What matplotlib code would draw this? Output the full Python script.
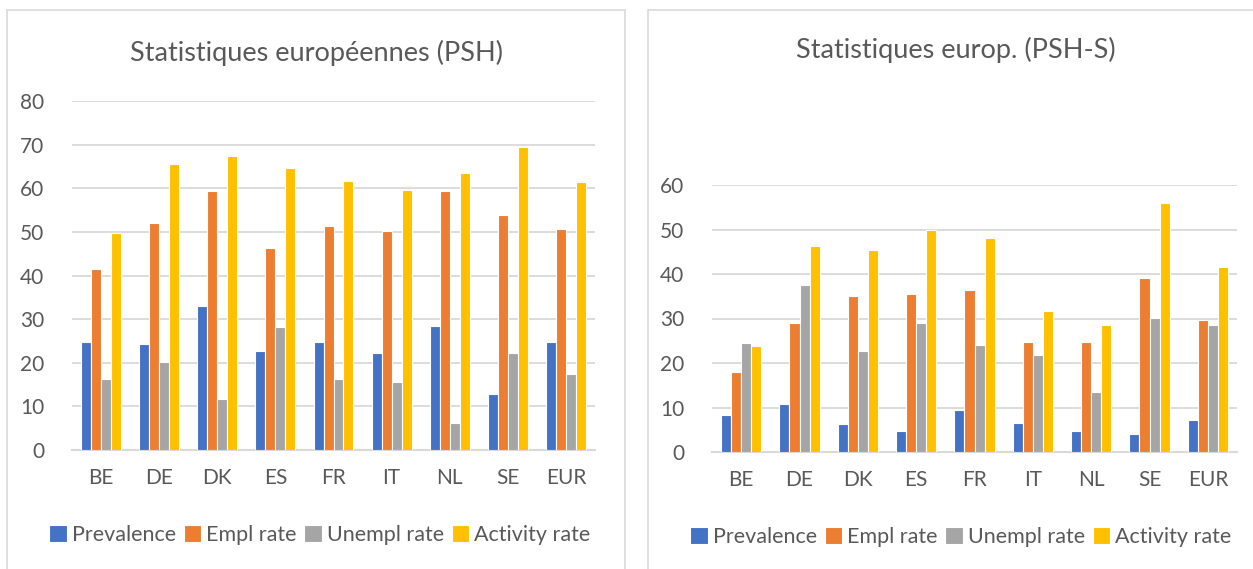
import matplotlib.pyplot as plt
import matplotlib.patches as mpatches
import numpy as np

plt.rcParams["font.family"] = ["Lato", "DejaVu Sans"]

countries = ["BE", "DE", "DK", "ES", "FR", "IT", "NL", "SE", "EUR"]
series_names = ["Prevalence", "Empl rate", "Unempl rate", "Activity rate"]
colors = ["#4472C4", "#ED7D31", "#A5A5A5", "#FFC000"]

# Statistiques européennes (PSH)
psh_prevalence = [24.8, 24.2, 32.9, 22.6, 24.7, 22.2, 28.4, 12.8, 24.7]
psh_empl = [41.4, 52.1, 59.4, 46.2, 51.4, 50.2, 59.4, 53.8, 50.6]
psh_unempl = [16.3, 20.2, 11.6, 28.2, 16.3, 15.5, 6.3, 22.2, 17.5]
psh_activity = [49.7, 65.5, 67.3, 64.7, 61.6, 59.6, 63.5, 69.4, 61.4]

# Statistiques europ. (PSH-S)
pshs_prevalence = [8.4, 10.8, 6.4, 4.8, 9.4, 6.6, 4.7, 4.0, 7.2]
pshs_empl = [18.0, 28.9, 35.1, 35.4, 36.5, 24.8, 24.8, 39.1, 29.6]
pshs_unempl = [24.6, 37.5, 22.6, 28.9, 24.0, 21.8, 13.5, 30.2, 28.6]
pshs_activity = [23.8, 46.4, 45.4, 49.9, 48.0, 31.7, 28.6, 55.9, 41.5]

TEXT = "#595959"
GRID = "#D9D9D9"


def draw_panel(ax, series, title, ymax, title_xy):
    x = np.arange(len(countries))
    slot = 0.172
    for i, vals in enumerate(series):
        ax.bar(x + (i - 1.5) * slot, vals, width=slot, color=colors[i],
               edgecolor="white", linewidth=0.8, label=series_names[i], zorder=3)
    ax.set_xlim(-0.5, len(countries) - 0.5)
    ax.set_ylim(0, ymax)
    ax.set_yticks(np.arange(0, ymax + 1, 10))
    ax.yaxis.grid(True, color=GRID, linewidth=1.3, zorder=0)
    ax.set_axisbelow(True)
    for s in ["top", "right", "left"]:
        ax.spines[s].set_visible(False)
    ax.spines["bottom"].set_color(GRID)
    ax.spines["bottom"].set_linewidth(1.5)
    ax.set_xticks(x)
    ax.set_xticklabels(countries)
    ax.tick_params(axis="both", length=0, labelsize=15, colors=TEXT)
    ax.tick_params(axis="x", pad=13)
    ax.tick_params(axis="y", pad=20)
    ax.figure.text(title_xy[0], title_xy[1], title, ha="center", va="center",
                   fontsize=19.5, color=TEXT)


fig = plt.figure(figsize=(12.53, 5.69), dpi=100)
W, H = 1253, 569

# chart frames
fig.add_artist(mpatches.Rectangle((7 / W, -0.1), 618 / W, 1.1 - 10 / H,
                                  transform=fig.transFigure, fill=False,
                                  edgecolor="#D9D9D9", linewidth=1.2))
fig.add_artist(mpatches.Rectangle((648 / W, -0.1), 0.6, 1.1 - 10 / H,
                                  transform=fig.transFigure, fill=False,
                                  edgecolor="#D9D9D9", linewidth=1.2))

ax1 = fig.add_axes([72 / W, (H - 450) / H, 523 / W, 349 / H])
draw_panel(ax1, [psh_prevalence, psh_empl, psh_unempl, psh_activity],
           "Statistiques européennes (PSH)", 80, (316 / W, (H - 53) / H))

ax2 = fig.add_axes([712 / W, (H - 452) / H, 525 / W, 267 / H])
draw_panel(ax2, [pshs_prevalence, pshs_empl, pshs_unempl, pshs_activity],
           "Statistiques europ. (PSH-S)", 60, (956 / W, (H - 50) / H))

for ax, cx, cy in [(ax1, 320, 535), (ax2, 961, 537)]:
    ax.legend(loc="center", bbox_to_anchor=(cx / W, (H - cy) / H),
              bbox_transform=fig.transFigure, ncol=4, frameon=False,
              fontsize=15.5, labelcolor=TEXT, handlelength=0.8,
              handleheight=0.8, handletextpad=0.25, columnspacing=0.35,
              borderpad=0)

fig.savefig("out.png", dpi=100)
